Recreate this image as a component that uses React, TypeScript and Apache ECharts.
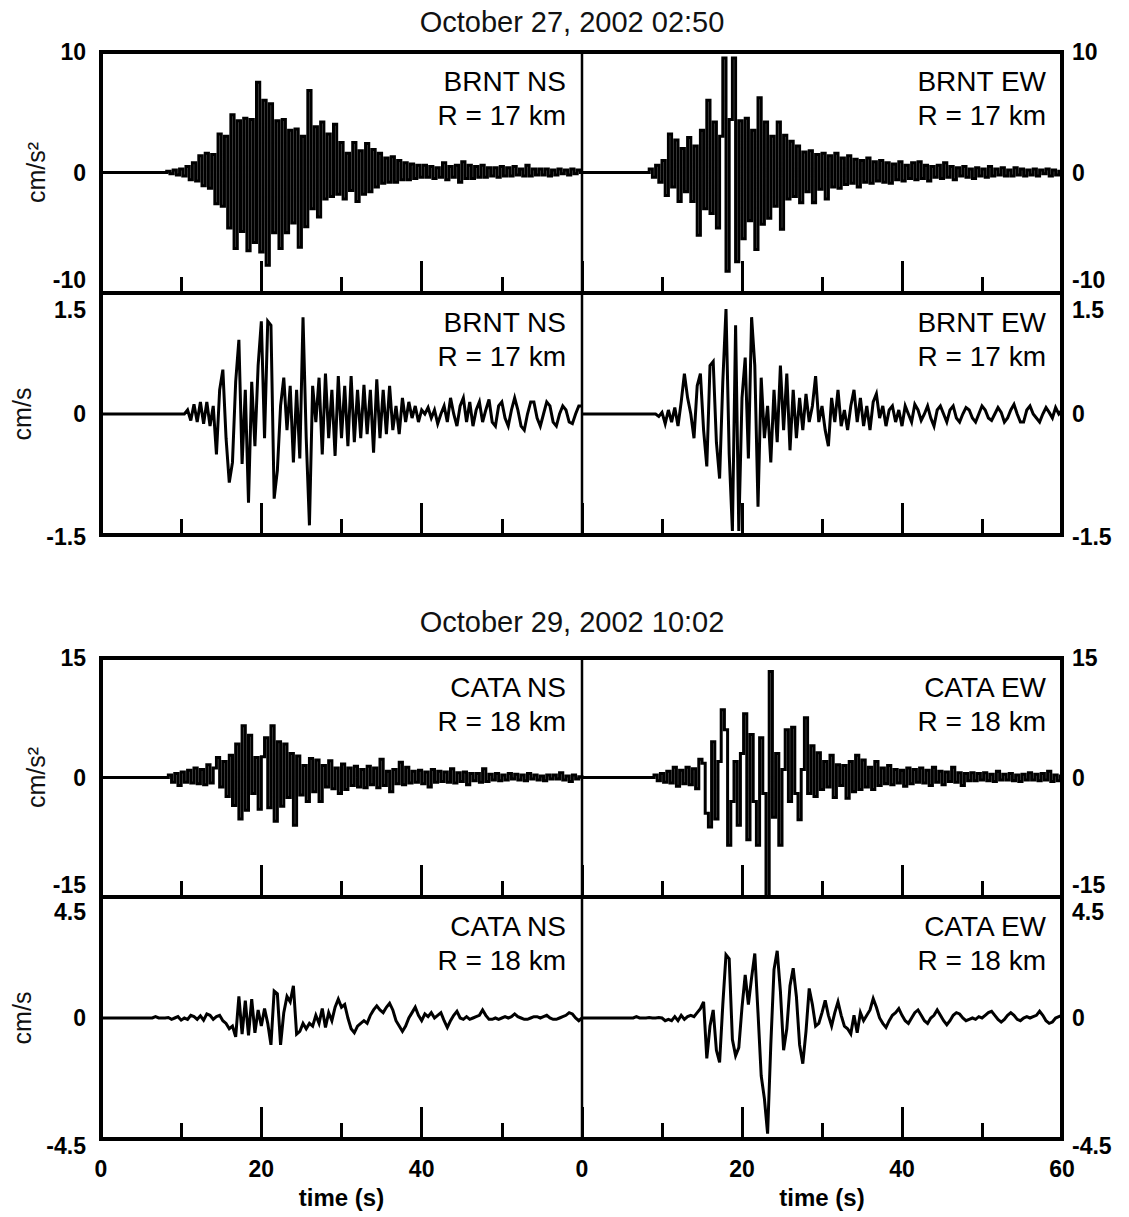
import { useEffect, useRef } from "react";
import * as echarts from "echarts";

const FONT = '"Liberation Sans", Arial, Helvetica, sans-serif';

// ---------- texts ----------
const eventTitles = ["October 27, 2002 02:50", "October 29, 2002 10:02"];
const stationLabels = [
  "BRNT NS\nR = 17 km",
  "BRNT EW\nR = 17 km",
  "BRNT NS\nR = 17 km",
  "BRNT EW\nR = 17 km",
  "CATA NS\nR = 18 km",
  "CATA EW\nR = 18 km",
  "CATA NS\nR = 18 km",
  "CATA EW\nR = 18 km",
];
const unitLabels = ["cm/s²", "cm/s", "cm/s²", "cm/s"];
const timeAxisName = "time (s)";

// ---------- axes ----------
const timeMin = 0;
const timeMax = 60;
const timeInterval = 20;
const yLimits = [10, 10, 1.5, 1.5, 15, 15, 4.5, 4.5];

// ---------- records (sampled every 0.4 s from onset) ----------
const sampleStep = 0.4;
const traceStarts = [8.4, 8.6, 10.8, 9.6, 8.6, 9.2, 6.8, 6.4];
const isAcceleration = [true, true, false, false, true, true, false, false];

const brntNsAcc = [
  0.1, -0.1, 0.2, -0.2, 0.3,
  -0.3, 0.5, -0.6, 0.8, -0.7,
  1.4, -1.1, 1.6, -1.3, 1.5,
  -2.6, 3.2, -2.8, 3.0, -4.6,
  4.8, -6.3, 4.3, -4.9, 4.5,
  -6.5, 4.4, -5.8, 7.5, -6.6,
  6.0, -7.7, 5.7, -5.0, 4.3,
  -6.3, 4.4, -5.0, 3.5, -4.2,
  3.6, -6.2, 3.0, -4.5, 6.8,
  -3.0, 3.8, -3.7, 4.2, -2.2,
  3.2, -2.0, 4.0, -1.8, 2.5,
  -2.2, 1.6, -1.5, 2.5, -2.4,
  1.8, -1.8, 2.4, -1.6, 1.9,
  -1.2, 1.6, -0.9, 1.2, -0.8,
  1.3, -0.8, 1.0, -0.6, 0.8,
  -0.6, 0.7, -0.5, 0.6, -0.4,
  0.6, -0.4, 0.5, -0.5, 0.4,
  -0.4, 0.8, -0.6, 0.5, -0.4,
  0.6, -0.8, 0.9, -0.5, 0.6,
  -0.5, 0.5, -0.4, 0.6, -0.4,
  0.4, -0.3, 0.4, -0.4, 0.5,
  -0.3, 0.4, -0.3, 0.5, -0.2,
  0.3, -0.3, 0.6, -0.3, 0.3,
  -0.2, 0.3, -0.2, 0.3, -0.3,
  0.2, -0.2, 0.3, -0.1, 0.2,
  -0.2, 0.3, -0.1, 0.2, 0.0,
];

const brntEwAcc = [
  0.3, -0.4, 0.6, -0.8, 1.0,
  -1.9, 3.2, -1.2, 2.7, -2.4,
  2.0, -1.6, 2.9, -2.4, 2.2,
  -5.2, 3.5, -3.0, 6.0, -3.4,
  4.2, -4.6, 3.0, 9.5, -8.2,
  4.4, 9.5, -7.4, 4.3, -5.5,
  4.5, -4.0, 3.5, -6.4, 6.2,
  -4.3, 4.2, -3.8, 3.0, -2.8,
  4.2, -4.7, 3.1, -2.2, 2.6,
  -2.0, 2.2, -2.5, 1.7, -1.6,
  1.8, -2.5, 1.5, -1.4, 1.6,
  -2.2, 1.4, -1.2, 1.6, -1.3,
  1.2, -1.0, 1.4, -0.9, 1.1,
  -1.2, 1.0, -0.8, 1.2, -0.9,
  0.9, -0.7, 1.0, -0.8, 0.8,
  -0.9, 0.7, -0.6, 0.9, -0.7,
  0.6, -0.5, 0.8, -0.6, 0.9,
  -0.5, 0.6, -0.7, 0.5, -0.4,
  0.6, -0.5, 0.8, -0.4, 0.5,
  -0.6, 0.4, -0.3, 0.5, -0.4,
  0.3, -0.5, 0.4, -0.3, 0.3,
  -0.4, 0.5, -0.3, 0.3, -0.2,
  0.4, -0.3, 0.2, -0.3, 0.4,
  -0.2, 0.3, -0.3, 0.2, -0.2,
  0.3, -0.3, 0.2, -0.1, 0.3,
  -0.3, 0.2, -0.2, 0.1,
];

const brntNsVel = [
  0.05, -0.08, 0.12, -0.1, 0.15,
  -0.12, 0.15, -0.15, 0.1, -0.5,
  0.3, 0.55, -0.3, -0.85, -0.6,
  0.4, 0.92, -0.62, 0.3, -1.1,
  0.4, -0.4, 0.6, 1.15, -0.3,
  1.15, 1.1, -1.05, -0.7, 0.1,
  0.45, -0.2, 0.35, -0.6, 0.3,
  -0.55, 1.2, -0.3, -1.38, 0.35,
  -0.1, 0.45, -0.5, 0.5, -0.3,
  0.3, -0.52, 0.47, -0.3, 0.35,
  -0.4, 0.47, -0.35, 0.3, -0.3,
  0.36, -0.25, 0.3, -0.48, 0.43,
  -0.3, 0.3, -0.25, 0.35, -0.2,
  0.1, -0.25, 0.2, -0.1, 0.15,
  -0.05, 0.1, -0.1, 0.05, 0.0,
  0.08, -0.05, 0.05, -0.12, 0.0,
  0.1, -0.1, 0.2, 0.0, -0.15,
  0.1, 0.2, -0.1, 0.15, -0.15,
  0.05, 0.15, -0.1, 0.05, 0.18,
  -0.1, -0.15, 0.1, 0.15, -0.05,
  -0.15, 0.05, 0.2, 0.05, -0.15,
  -0.2, 0.0, 0.15, 0.15, -0.05,
  -0.15, 0.0, 0.15, 0.1, -0.1,
  -0.15, 0.0, 0.1, 0.05, -0.1,
  -0.12, 0.0, 0.1, 0.1,
];

const brntEwVel = [
  -0.03, 0.02, -0.12, 0.05, -0.1,
  0.08, -0.15, 0.15, 0.5, 0.2,
  0.0, -0.3, 0.35, 0.5, -0.2,
  -0.65, 0.6, 0.65, -0.35, -0.8,
  0.4, 1.3, -0.5, -1.45, 1.1,
  -1.45, 0.2, 0.7, -0.55, 1.2,
  0.6, -1.15, 0.45, -0.3, 0.1,
  -0.6, 0.3, -0.35, 0.6, -0.2,
  0.5, -0.45, 0.3, -0.3, 0.2,
  -0.2, 0.25, -0.1, 0.1, 0.47,
  -0.1, 0.1, -0.2, -0.4, 0.2,
  -0.1, 0.3, -0.15, 0.05, -0.2,
  0.1, 0.3, -0.1, 0.2, -0.15,
  0.1, -0.2, 0.15, 0.25, -0.05,
  0.1, -0.15, 0.05, 0.1, -0.1,
  0.05, -0.15, 0.1, 0.0, -0.1,
  0.12, 0.05, -0.08, 0.0, 0.1,
  -0.05, -0.15, 0.05, 0.1, 0.0,
  -0.1, 0.05, 0.1, -0.05, -0.1,
  0.0, 0.08, 0.05, -0.05, -0.1,
  0.0, 0.1, 0.05, -0.05, -0.08,
  0.0, 0.08, 0.02, -0.1, -0.05,
  0.05, 0.12, 0.0, -0.1, -0.1,
  0.05, 0.1, 0.0, -0.05, -0.1,
  0.0, 0.08, 0.02, -0.05, 0.08,
  0.0, 0.05,
];

const cataNsAcc = [
  0.3, -0.6, 0.5, -1.0, 0.7,
  -0.6, 0.9, -0.7, 1.2, -0.8,
  1.0, -0.9, 1.6, -0.7, 1.2,
  2.5, -1.2, 2.0, -2.4, 2.8,
  -3.5, 4.2, -5.2, 6.5, -4.1,
  5.3, -2.0, 2.5, -4.0, 2.6,
  5.0, -3.8, 6.5, -5.5, 4.5,
  -3.6, 4.2, -2.5, 3.0, -6.0,
  2.7, -2.2, 1.5, -3.0, 2.4,
  -1.8, 2.2, -3.0, 1.5, -1.2,
  2.1, -1.4, 1.2, -2.0, 1.7,
  -1.5, 1.2, -1.0, 1.4, -1.2,
  1.0, -1.3, 1.4, -0.9, 1.2,
  -1.3, 2.3, -1.0, 0.8, -1.8,
  1.0, -0.8, 1.9, -0.9, 1.3,
  -0.7, 0.8, -0.6, 0.9, -0.8,
  0.7, -1.2, 1.0, -0.6, 0.8,
  -0.5, 0.7, -0.6, 1.1, -0.7,
  0.6, -0.5, 0.7, -0.9, 0.5,
  -0.4, 0.5, -0.6, 1.1, -0.5,
  0.4, -0.3, 0.5, -0.4, 0.3,
  -0.3, 0.5, -0.2, 0.4, -0.3,
  0.3, -0.4, 0.5, -0.2, 0.3,
  -0.3, 0.2, -0.4, 0.3, -0.2,
  0.3, -0.2, 0.6, -0.3, 0.2,
  -0.5, 0.3, -0.2, 0.1, 0.0,
];

const cataEwAcc = [
  0.3, -0.4, 0.5, -0.6, 0.8,
  -0.7, 1.3, -1.1, 0.9, -0.8,
  1.3, -0.9, 1.1, -1.4, 2.3,
  1.8, -4.5, -6.2, 4.5, -5.2,
  2.0, 8.5, 6.0, -8.5, -3.0,
  2.0, -6.0, 3.0, 8.0, -7.8,
  5.4, -3.0, -8.5, 5.0, -2.0,
  -15.0, 13.3, -5.0, 3.0, -8.5,
  1.0, 6.0, -3.0, 6.3, -2.0,
  -5.3, 1.0, 7.5, -2.0, 4.0,
  -2.4, 3.1, -1.5, 2.0, -1.2,
  2.8, -2.5, 1.6, -1.0, 1.5,
  -2.6, 2.0, -1.8, 2.8, -1.5,
  2.2, -1.2, 1.3, -1.5, 2.0,
  -1.0, 1.2, -0.8, 1.5, -0.9,
  1.0, -0.7, 0.9, -1.1, 1.2,
  -0.8, 1.0, -0.6, 1.2, -0.7,
  0.9, -1.0, 1.3, -0.6, 0.8,
  -0.9, 0.7, -0.5, 1.3, -0.6,
  0.6, -1.0, 0.5, -0.4, 0.6,
  -0.4, 0.5, -0.3, 0.6, -0.4,
  0.4, -0.5, 0.8, -0.3, 0.4,
  -0.3, 0.5, -0.4, 0.3, -0.5,
  0.4, -0.3, 0.6, -0.3, 0.4,
  -0.4, 0.5, -0.3, 0.8, -0.5,
  0.3, -0.4, 0.2,
];

const cataNsVel = [
  0.05, 0.0, 0.0, 0.0, 0.02,
  -0.05, 0.0, 0.05, -0.08, 0.0,
  -0.05, 0.1, 0.05, -0.05, 0.08,
  -0.08, 0.15, 0.1, -0.05, 0.05,
  0.1, -0.1, -0.2, -0.4, -0.3,
  -0.7, 0.8, -0.6, 0.65, -0.65,
  0.7, -0.55, 0.3, -0.3, 0.35,
  -0.2, -1.0, 1.0, 0.9, -1.0,
  0.2, 0.8, 0.6, 1.2, -0.6,
  -0.5, -0.2, -0.4, -0.2, -0.3,
  0.1, -0.2, 0.35, -0.35, 0.2,
  -0.1, 0.4, 0.7, 0.4, 0.5,
  0.0, -0.4, -0.55, -0.3, -0.2,
  -0.1, -0.2, 0.1, 0.3, 0.45,
  0.3, 0.2, 0.4, 0.55, 0.3,
  -0.1, -0.3, -0.5, -0.3, 0.0,
  0.2, 0.4, 0.1, -0.1, 0.15,
  0.05, 0.2, 0.0, 0.1, 0.2,
  -0.1, -0.35, -0.1, 0.1, 0.25,
  0.0, -0.05, 0.05, -0.05, 0.0,
  0.05, 0.1, 0.3, 0.1, -0.05,
  -0.05, 0.0, -0.05, 0.0, 0.05,
  0.0, 0.05, 0.15, 0.05, 0.0,
  -0.05, -0.05, 0.0, 0.05, 0.05,
  0.0, 0.05, 0.1, 0.0, -0.05,
  -0.05, 0.0, 0.05, 0.1, 0.2,
  0.15, 0.0, -0.1, 0.0,
];

const cataEwVel = [
  0.0, 0.05, 0.0, 0.0, 0.0,
  0.02, 0.0, 0.0, 0.02, 0.0,
  -0.1, -0.05, -0.1, 0.05, -0.1,
  0.1, -0.05, 0.05, 0.1, 0.05,
  0.2, 0.35, 0.6, -1.5, -0.3,
  0.3, -1.2, -1.65, 0.5, 2.35,
  2.2, -0.8, -1.4, -1.1, 0.4,
  1.6, 0.5, 1.5, 2.4, 0.2,
  -2.15, -3.0, -4.3, -1.0, 1.8,
  2.5, 1.0, -1.2, -0.4, 1.2,
  1.85, 0.8, -1.0, -1.7, -0.5,
  1.1, 0.5, -0.3, -0.2, 0.2,
  0.66, 0.1, -0.3, 0.2, 0.6,
  0.1, -0.3, -0.4, -0.59, 0.1,
  -0.55, 0.2, -0.1, 0.1, 0.3,
  0.72, 0.4, 0.0, -0.2, -0.35,
  -0.1, 0.1, 0.2, 0.35, 0.1,
  -0.1, -0.2, 0.0, 0.2, 0.3,
  0.1, -0.1, -0.2, 0.0, 0.1,
  0.3, 0.1, -0.1, -0.25, -0.1,
  0.1, 0.2, 0.15, 0.0, -0.1,
  -0.05, 0.0, -0.05, 0.05, 0.0,
  0.1, 0.2, 0.25, 0.1, -0.05,
  -0.15, -0.05, 0.1, 0.2, 0.1,
  -0.05, -0.1, 0.0, 0.05, 0.0,
  0.05, 0.1, 0.25, 0.1, -0.1,
  -0.2, -0.15, 0.0, 0.05, 0.1,
];

const traces = [brntNsAcc, brntEwAcc, brntNsVel, brntEwVel, cataNsAcc, cataEwAcc, cataNsVel, cataEwVel];

// ---------- layout (pixels) ----------
const W = 1129;
const H = 1217;
const X_LEFT = 101;
const X_MID = 582;
const X_RIGHT = 1062;
const BLOCK_ROWS = [
  [52, 293, 535],
  [658, 897, 1139],
];
const TITLE_Y = [22, 622];
const TITLE_X = 572;
const MIN_LABEL_RAISE = [13, 12];
const MAX_LABEL_DROP = [17, 15];
const BOTTOM_LABEL_DROP = [2, 7];
const UNIT_X = [36, 22];

function buildTrace(start: number, values: number[]) {
  const pts: number[][] = [
    [timeMin, 0],
    [+(start - sampleStep).toFixed(2), 0],
  ];
  values.forEach((v, i) => pts.push([+(start + i * sampleStep).toFixed(2), v]));
  return pts;
}

export default function App() {
  const ref = useRef<HTMLDivElement>(null);

  useEffect(() => {
    if (!ref.current) return;
    const chart = echarts.init(ref.current, undefined, { renderer: "svg" });

    const grids: any[] = [];
    const xAxes: any[] = [];
    const yAxes: any[] = [];
    const series: any[] = [];
    const graphics: any[] = [];

    for (let b = 0; b < 2; b++) {
      const rows = BLOCK_ROWS[b];
      for (let r = 0; r < 2; r++) {
        for (let c = 0; c < 2; c++) {
          const i = b * 4 + r * 2 + c;
          const left = c === 0 ? X_LEFT : X_MID;
          const right = c === 0 ? X_MID : X_RIGHT;
          const top = rows[r];
          const bottom = rows[r + 1];
          const lim = yLimits[i];
          const bottomRow = b === 1 && r === 1;
          grids.push({ left, top, width: right - left, height: bottom - top, containLabel: false });

          xAxes.push({
            type: "value",
            gridIndex: i,
            min: timeMin,
            max: timeMax,
            interval: timeInterval,
            axisLine: { show: false, onZero: false },
            axisTick: { show: true, inside: true, length: 32, lineStyle: { color: "#000", width: 3 } },
            minorTick: { show: true, splitNumber: 2, length: 16, lineStyle: { color: "#000", width: 3 } },
            splitLine: { show: false },
            minorSplitLine: { show: false },
            axisLabel: {
              show: bottomRow,
              margin: 18,
              color: "#000",
              fontFamily: FONT,
              fontSize: 23,
              fontWeight: "bold",
              formatter: (v: number) => (c === 0 && v === timeMax ? "" : String(v)),
            },
            name: bottomRow ? timeAxisName : "",
            nameLocation: "middle",
            nameGap: 46,
            nameTextStyle: { color: "#000", fontFamily: FONT, fontSize: 24, fontWeight: "bold" },
          });

          const labelStyle = { fontFamily: FONT, fontSize: 23, fontWeight: "bold", color: "#000" };
          yAxes.push({
            type: "value",
            gridIndex: i,
            position: c === 0 ? "left" : "right",
            min: -lim,
            max: lim,
            interval: lim,
            axisLine: { show: false, onZero: false },
            axisTick: { show: false },
            splitLine: { show: false },
            axisLabel: {
              show: true,
              margin: c === 0 ? 15 : 10,
              ...labelStyle,
              formatter: (v: number) => {
                const s = String(v);
                if (r === 0 && Math.abs(v + lim) < 1e-9) return `{up|${s}}`;
                if (r === 1 && Math.abs(v - lim) < 1e-9) return `{dn|${s}}`;
                if (r === 1 && Math.abs(v + lim) < 1e-9) return `{low|${s}}`;
                return s;
              },
              rich: {
                up: { ...labelStyle, padding: [0, 0, MIN_LABEL_RAISE[b] * 2, 0] },
                dn: { ...labelStyle, padding: [MAX_LABEL_DROP[b] * 2, 0, 0, 0] },
                low: { ...labelStyle, padding: [BOTTOM_LABEL_DROP[b] * 2, 0, 0, 0] },
              },
            },
          });

          series.push({
            type: "line",
            xAxisIndex: i,
            yAxisIndex: i,
            data: buildTrace(traceStarts[i], traces[i]),
            showSymbol: false,
            symbol: "none",
            step: isAcceleration[i] ? "middle" : false,
            lineStyle: { color: "#000", width: 3, join: "miter" },
            clip: true,
            z: 2,
          });

          graphics.push({
            type: "text",
            z: 50,
            x: right - 16,
            y: top + 12,
            style: {
              text: stationLabels[i],
              fill: "#000",
              font: `normal 28px ${FONT}`,
              lineHeight: 34,
              align: "right",
              verticalAlign: "top",
              textAlign: "right",
              textVerticalAlign: "top",
            },
          });
        }

        // unit label at left of each row
        const unit = unitLabels[b * 2 + r];
        graphics.push({
          type: "text",
          z: 50,
          x: UNIT_X[r],
          y: (rows[r] + rows[r + 1]) / 2,
          rotation: Math.PI / 2,
          style: {
            text: unit,
            fill: "#111",
            font: `normal 25px ${FONT}`,
            align: "center",
            verticalAlign: "middle",
            textAlign: "center",
            textVerticalAlign: "middle",
          },
        });
      }

      // frame
      graphics.push({
        type: "rect",
        z: 60,
        shape: { x: X_LEFT, y: rows[0], width: X_RIGHT - X_LEFT, height: rows[2] - rows[0] },
        style: { fill: "none", stroke: "#000", lineWidth: 4 },
      });
      graphics.push({
        type: "line",
        z: 60,
        shape: { x1: X_LEFT, y1: rows[1], x2: X_RIGHT, y2: rows[1] },
        style: { stroke: "#000", lineWidth: 4 },
      });
      graphics.push({
        type: "line",
        z: 60,
        shape: { x1: X_MID, y1: rows[0], x2: X_MID, y2: rows[2] },
        style: { stroke: "#000", lineWidth: 2.5 },
      });

      graphics.push({
        type: "text",
        z: 50,
        x: TITLE_X,
        y: TITLE_Y[b],
        style: {
          text: eventTitles[b],
          fill: "#111",
          font: `normal 29px ${FONT}`,
          align: "center",
          verticalAlign: "middle",
          textAlign: "center",
          textVerticalAlign: "middle",
        },
      });
    }

    chart.setOption({
      animation: false,
      backgroundColor: "#fff",
      grid: grids,
      xAxis: xAxes,
      yAxis: yAxes,
      series,
      graphic: { elements: graphics },
    });

    return () => chart.dispose();
  }, []);

  return (
    <div
      ref={ref}
      style={{ position: "absolute", left: 0, top: 0, width: W, height: H, background: "#fff" }}
    />
  );
}
